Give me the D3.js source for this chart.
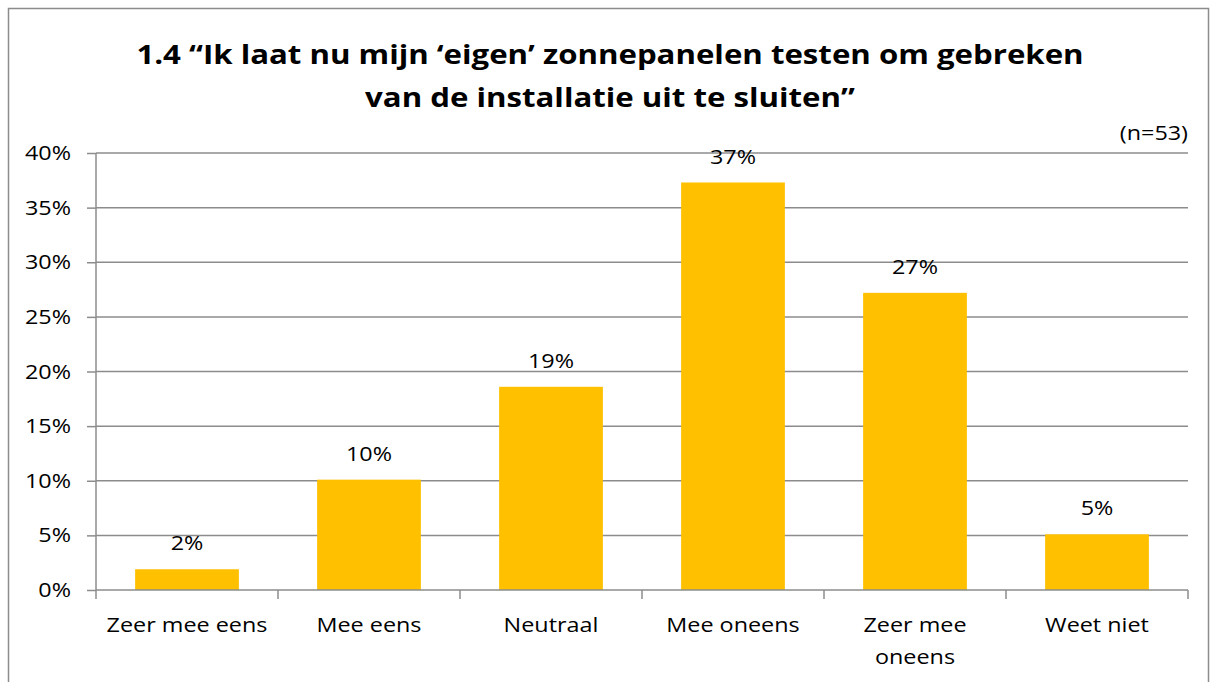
<!DOCTYPE html>
<html>
<head>
<meta charset="utf-8">
<script src="https://cdn.jsdelivr.net/npm/d3@7"></script>
<style>
  body { margin: 0; background: #fff; }
  text { font-family: "Open Sans", Lato, sans-serif; fill: #000; }
  .wide { transform-box: fill-box; transform-origin: center; transform: scaleX(1.14); }
  .wide-end { transform-box: fill-box; transform-origin: right; transform: scaleX(1.14); }
  .wide-title { transform-box: fill-box; transform-origin: center; transform: scaleX(1.2); }
</style>
</head>
<body>
<div id="chart"></div>
<script>
// data
var categories = ["Zeer mee eens", "Mee eens", "Neutraal", "Mee oneens", "Zeer mee oneens", "Weet niet"];
var values = [1.9, 10.1, 18.6, 37.3, 27.2, 5.1];
var valueLabels = ["2%", "10%", "19%", "37%", "27%", "5%"];
var yTicks = [0, 5, 10, 15, 20, 25, 30, 35, 40];
var titleLines = ["1.4 \u201cIk laat nu mijn \u2018eigen\u2019 zonnepanelen testen om gebreken", "van de installatie uit te sluiten\u201d"];

var W = 1212, H = 682;
var margin = {top: 153, right: 24, bottom: 92, left: 96};
var width = W - margin.left - margin.right,
    height = H - margin.top - margin.bottom;
var fs = "20.5px";
var sx = 1.14;

var svg = d3.select("#chart").append("svg")
    .attr("width", W)
    .attr("height", H);

// outer frame
svg.append("rect")
    .attr("x", 8.5).attr("y", 8.5)
    .attr("width", W - 12).attr("height", H + 20)
    .attr("fill", "none")
    .attr("stroke", "#8c8c8c")
    .attr("stroke-width", 1.5);

// title
svg.append("g").selectAll("text")
    .data(titleLines)
    .enter().append("text")
    .attr("class", "wide-title")
    .attr("x", 610)
    .attr("y", function(d, i) { return 64 + i * 43; })
    .attr("text-anchor", "middle")
    .style("font-size", "26px")
    .style("font-weight", "bold")
    .text(function(d) { return d; });

svg.append("text")
    .attr("class", "wide-end")
    .attr("x", W - margin.right)
    .attr("y", 140)
    .attr("text-anchor", "end")
    .style("font-size", fs)
    .text("(n=53)");

var g = svg.append("g")
    .attr("transform", "translate(" + margin.left + "," + margin.top + ")");

var x = d3.scaleBand()
    .domain(categories)
    .range([0, width])
    .paddingInner(0.43)
    .paddingOuter(0.215);

var y = d3.scaleLinear()
    .domain([0, 40])
    .range([height, 0]);

// gridlines
g.append("g")
    .selectAll("line")
    .data(yTicks.slice(1))
    .enter().append("line")
    .attr("x1", 0).attr("x2", width)
    .attr("y1", function(d) { return y(d); })
    .attr("y2", function(d) { return y(d); })
    .attr("stroke", "#8c8c8c")
    .attr("stroke-width", 1.5);

// y axis
var yAxis = g.append("g")
    .call(d3.axisLeft(y).tickValues(yTicks).tickSize(9).tickPadding(16)
        .tickFormat(function(d) { return d + "%"; }));
yAxis.selectAll("line, path").attr("stroke", "#8c8c8c").attr("stroke-width", 1.5);
yAxis.selectAll("text").attr("class", "wide-end").style("font-size", fs).attr("fill", "#000");
yAxis.select(".domain").attr("d", "M0," + height + "V0");

// bars
g.selectAll(".bar")
    .data(values)
    .enter().append("rect")
    .attr("class", "bar")
    .attr("x", function(d, i) { return x(categories[i]); })
    .attr("width", x.bandwidth())
    .attr("y", function(d) { return y(d); })
    .attr("height", function(d) { return height - y(d); })
    .attr("fill", "#FFC000");

// value labels
g.selectAll(".vlabel")
    .data(values)
    .enter().append("text")
    .attr("class", "wide")
    .attr("x", function(d, i) { return x(categories[i]) + x.bandwidth() / 2; })
    .attr("y", function(d) { return y(d) - 19; })
    .attr("text-anchor", "middle")
    .style("font-size", fs)
    .text(function(d, i) { return valueLabels[i]; });

// x axis with category boundary ticks
var step = width / categories.length;
var xAxis = g.append("g").attr("transform", "translate(0," + height + ")");
xAxis.append("line")
    .attr("x1", 0).attr("x2", width)
    .attr("stroke", "#8c8c8c").attr("stroke-width", 1.5);
xAxis.selectAll(".tick")
    .data(d3.range(categories.length + 1))
    .enter().append("line")
    .attr("x1", function(d) { return d * step; })
    .attr("x2", function(d) { return d * step; })
    .attr("y1", 0).attr("y2", 9)
    .attr("stroke", "#8c8c8c").attr("stroke-width", 1.5);

var catText = xAxis.selectAll(".cat")
    .data(categories)
    .enter().append("text")
    .attr("class", "wide")
    .attr("x", function(d) { return x(d) + x.bandwidth() / 2; })
    .attr("y", 42)
    .attr("text-anchor", "middle")
    .style("font-size", fs)
    .text(function(d) { return d; });

// wrap long labels to the band step
catText.each(function(d) {
  var t = d3.select(this);
  if (this.getComputedTextLength() * sx <= step - 10) return;
  var words = d.split(" "), line = [], lines = [];
  t.text(null);
  words.forEach(function(w) {
    var test = line.concat(w).join(" ");
    t.text(test);
    if (this.getComputedTextLength() * sx > step - 50 && line.length) {
      lines.push(line.join(" "));
      line = [w];
    } else {
      line.push(w);
    }
  }, this);
  lines.push(line.join(" "));
  var cx = t.attr("x");
  t.text(null);
  lines.forEach(function(l, i) {
    t.append("tspan").attr("x", cx).attr("dy", i ? 32 : 0).text(l);
  });
});
</script>
</body>
</html>
